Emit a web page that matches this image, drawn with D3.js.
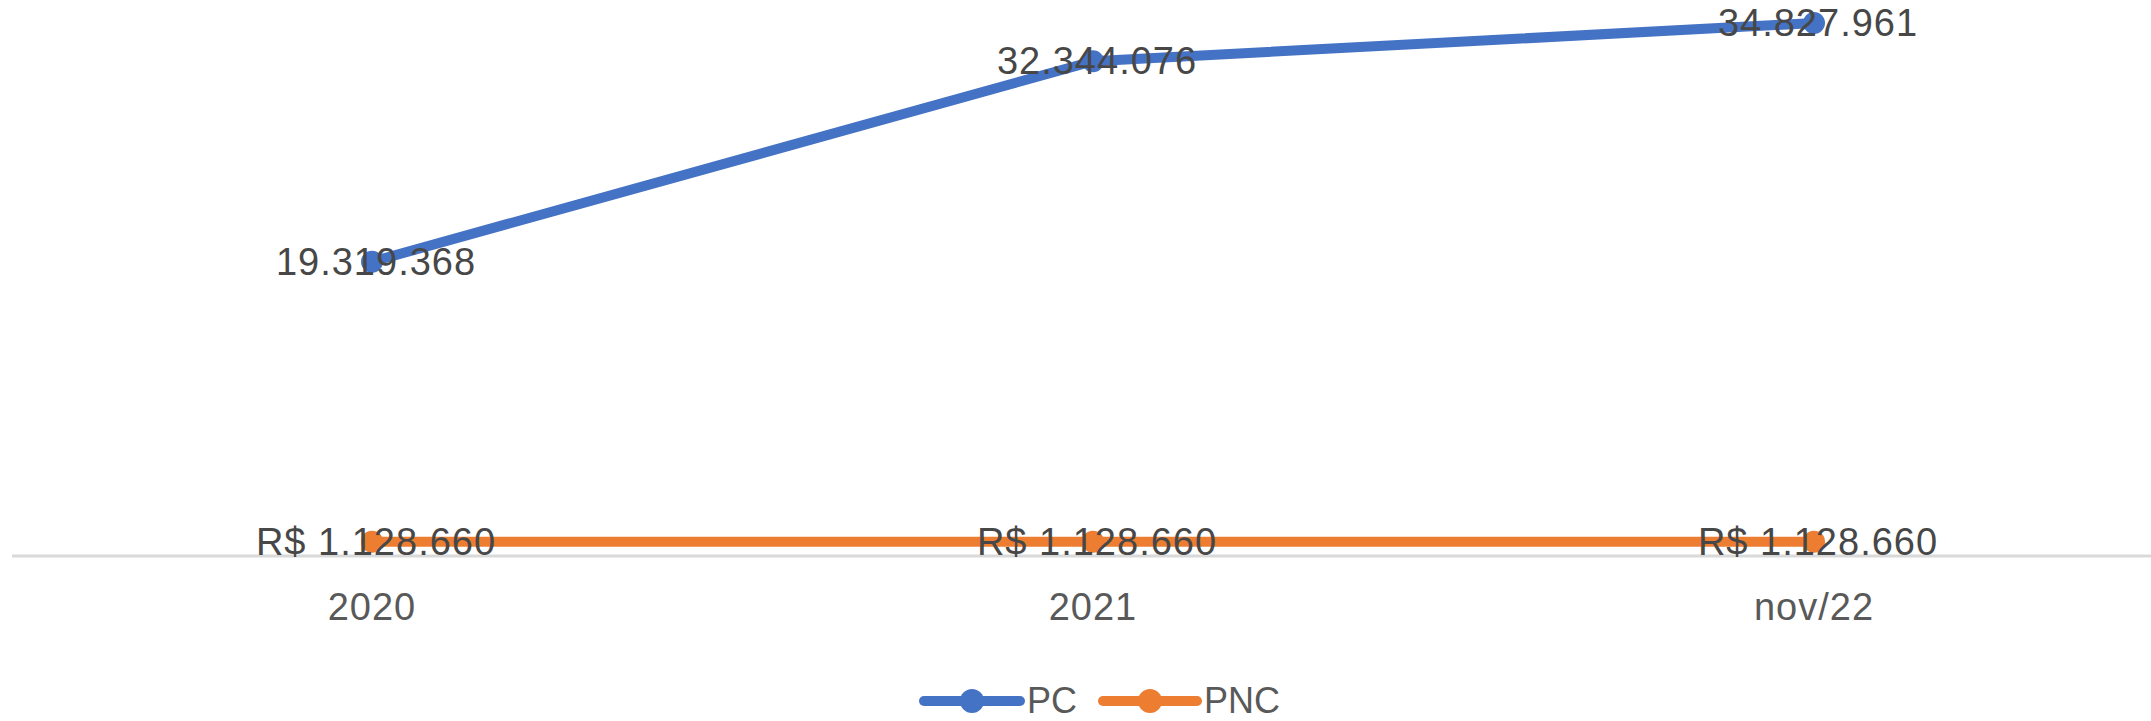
<!DOCTYPE html>
<html>
<head>
<meta charset="utf-8">
<script src="https://cdn.jsdelivr.net/npm/d3@7"></script>
<style>
  html, body { margin: 0; padding: 0; background: #ffffff; }
  svg { display: block; }
  text { font-family: "Liberation Sans", Arial, sans-serif; }
</style>
</head>
<body>
<svg id="chart" width="2151" height="721"></svg>
<script>
const categories = ["2020", "2021", "nov/22"];
const pcValues = [19319368, 32344076, 34827961];
const pncValues = [1128660, 1128660, 1128660];
const pcLabels = ["19.319.368", "32.344.076", "34.827.961"];
const pncLabels = ["R$ 1.128.660", "R$ 1.128.660", "R$ 1.128.660"];
const seriesNames = ["PC", "PNC"];
const seriesColors = ["#4472C4", "#ED7D31"];

const svg = d3.select("#chart");
const W = 2151, H = 721;

const x = d3.scalePoint().domain(categories).range([372, 1814]);
const y = d3.scaleLinear().domain([0, 34827961]).range([559, 23]);

// horizontal axis line
svg.append("line")
  .attr("x1", 12).attr("x2", W)
  .attr("y1", y(0) - 3).attr("y2", y(0) - 3)
  .attr("stroke", "#d9d9d9").attr("stroke-width", 3);

// tick labels
svg.append("g").selectAll("text").data(categories).join("text")
  .attr("x", d => x(d)).attr("y", 620)
  .attr("text-anchor", "middle")
  .attr("font-size", 38)
  .attr("letter-spacing", 1)
  .attr("fill", "#595959")
  .text(d => d);

const series = [
  { name: seriesNames[0], color: seriesColors[0], values: pcValues, labels: pcLabels },
  { name: seriesNames[1], color: seriesColors[1], values: pncValues, labels: pncLabels }
];

const line = d3.line().x((d, i) => x(categories[i])).y(d => y(d));

series.forEach(s => {
  svg.append("path")
    .datum(s.values)
    .attr("d", line)
    .attr("fill", "none")
    .attr("stroke", s.color)
    .attr("stroke-width", 10)
    .attr("stroke-linecap", "round")
    .attr("stroke-linejoin", "round");
  svg.append("g").selectAll("circle").data(s.values).join("circle")
    .attr("cx", (d, i) => x(categories[i]))
    .attr("cy", d => y(d))
    .attr("r", 11)
    .attr("fill", s.color);
});

series.forEach(s => {
  svg.append("g").selectAll("text").data(s.values).join("text")
    .attr("x", (d, i) => x(categories[i]) + 4)
    .attr("y", d => y(d) + 13)
    .attr("text-anchor", "middle")
    .attr("font-size", 38)
    .attr("letter-spacing", 1)
    .attr("fill", "#474747")
    .text((d, i) => s.labels[i]);
});

// legend
const legendItems = [
  { name: seriesNames[0], color: seriesColors[0], x0: 924, x1: 1020, tx: 1027 },
  { name: seriesNames[1], color: seriesColors[1], x0: 1103, x1: 1197, tx: 1204 }
];
const ly = 701;
const lg = svg.append("g");
legendItems.forEach(it => {
  lg.append("line")
    .attr("x1", it.x0).attr("x2", it.x1)
    .attr("y1", ly).attr("y2", ly)
    .attr("stroke", it.color).attr("stroke-width", 10)
    .attr("stroke-linecap", "round");
  lg.append("circle")
    .attr("cx", (it.x0 + it.x1) / 2).attr("cy", ly).attr("r", 12)
    .attr("fill", it.color);
  lg.append("text")
    .attr("x", it.tx).attr("y", 713)
    .attr("font-size", 36)
    .attr("fill", "#595959")
    .text(it.name);
});
</script>
</body>
</html>
